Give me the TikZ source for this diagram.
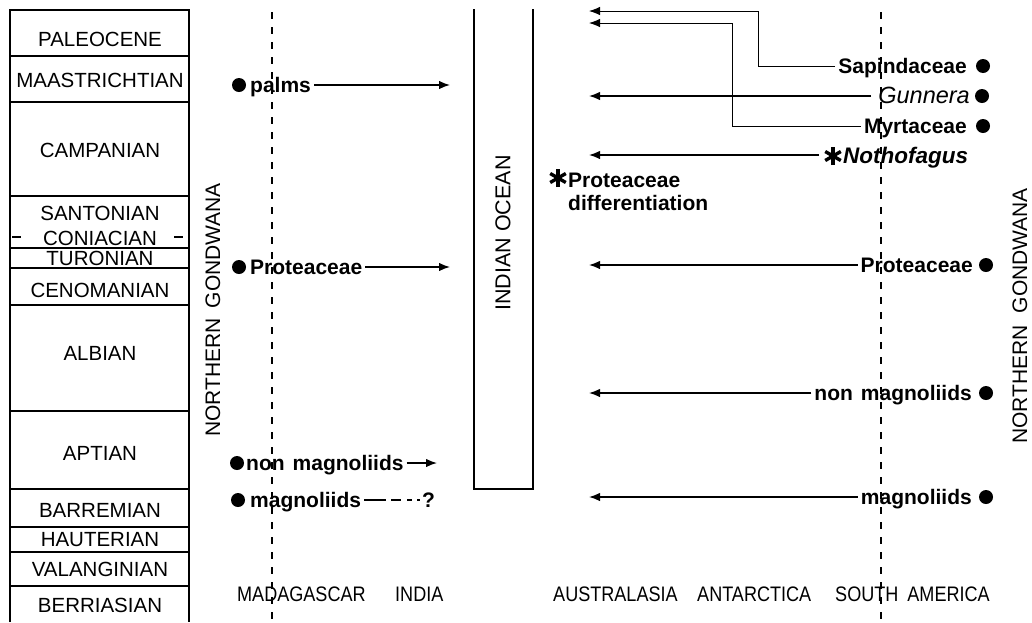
\documentclass[tikz,border=0pt]{standalone}
\usepackage{fontspec}
\setmainfont{Liberation Sans}
\newfontfamily\narrowfont{Liberation Sans}[FakeStretch=0.86]
\usetikzlibrary{arrows.meta}
\begin{document}
\begin{tikzpicture}[x=1pt,y=-1pt,
  col/.style={line width=1.2pt},
  stage/.style={font=\fontsize{20.5}{22}\selectfont, inner sep=0pt, text height=15pt, text depth=0pt},
  lab/.style={font=\bfseries\fontsize{21}{24}\selectfont, inner xsep=3pt, inner ysep=0pt, text height=15pt, text depth=0pt},
  itlab/.style={lab, font=\itshape\fontsize{23.5}{26}\selectfont},
  bilab/.style={lab, font=\bfseries\itshape\fontsize{22.5}{25}\selectfont},
  place/.style={font=\narrowfont\fontsize{21}{24}\selectfont, inner sep=0pt, text height=15pt, text depth=0pt},
  vlab/.style={font=\fontsize{21}{24}\selectfont, inner sep=0pt, rotate=90},
  dot/.style={circle, fill=black, minimum size=14pt, inner sep=0pt},
  arr/.style={line width=1.4pt, -{Latex[length=11pt,width=8.5pt]}},
  tarr/.style={line width=0.9pt, -{Latex[length=11pt,width=8.5pt]}},
  guide/.style={line width=1.1pt, dash pattern=on 7pt off 8pt},
  astk/.pic={\foreach \a in {90,30,150} \draw[line width=3.4pt] (\a:9) -- (\a+180:9);}
]
\fill[white] (0,0) rectangle (1032,622);
\useasboundingbox (0,0) rectangle (1032,622);

% ---- stage column ----
\draw[col] (10,622) -- (10,10) -- (189,10) -- (189,622);
\foreach \y in {56,102,196,248,268,305,411,489,527,552,586}
  \draw[col] (10,\y) -- (189,\y);
\draw[col] (12,237) -- (21,237);
\draw[col] (174,237) -- (183,237);

\node[stage] (pal) at (100,39) {PALEOCENE};
\node[stage] (maa) at (100,80) {MAASTRICHTIAN};
\node[stage] (cam) at (100,150) {CAMPANIAN};
\node[stage] (san) at (100,213) {SANTONIAN};
\node[stage] (con) at (100,238) {CONIACIAN};
\node[stage] (tur) at (100,258) {TURONIAN};
\node[stage] (cen) at (100,290) {CENOMANIAN};
\node[stage] (alb) at (100,353) {ALBIAN};
\node[stage] (apt) at (100,453) {APTIAN};
\node[stage] (bar) at (100,510) {BARREMIAN};
\node[stage] (hau) at (100,539) {HAUTERIAN};
\node[stage] (val) at (100,569) {VALANGINIAN};
\node[stage] (ber) at (100,605) {BERRIASIAN};

% ---- Northern Gondwana labels ----
\node[vlab] (ngl) at (213,310) {NORTHERN\hspace{10pt}GONDWANA};
\node[vlab] (ngr) at (1020,316) {NORTHERN\hspace{12pt}GONDWANA};

% ---- dashed guide lines ----
\coordinate (gl1) at (272,12);
\coordinate (gl2) at (272,622);
\coordinate (gr1) at (881,12);
\coordinate (gr2) at (881,622);
\draw[guide] (gl1) -- (gl2);
\draw[guide] (gr1) -- (gr2);

% ---- Indian Ocean ----
\draw[line width=2pt] (474,9) -- (474,489) -- (533,489) -- (533,9);
\node[vlab, font=\fontsize{21.5}{24}\selectfont] (io) at (503,233) {INDIAN OCEAN};

% ---- left (Madagascar / India) ----
\node[dot] (dpa) at (239,85) {};
\node[lab, anchor=west] (tpa) at (247,85) {palms};
\coordinate (epa) at (450,85);
\draw[arr] (tpa.east) -- (epa);

\node[dot] (dpl) at (239,267) {};
\node[lab, anchor=west] (tpl) at (247,267) {Proteaceae};
\coordinate (epl) at (450,267);
\draw[arr] (tpl.east) -- (epl);

\node[dot] (dnl) at (237,463) {};
\node[lab, anchor=west] (tnl) at (243,463) {non\hspace{8pt}magnoliids};
\coordinate (enl) at (437,463);
\draw[arr] (tnl.east) -- (enl);

\node[dot] (dml) at (238,500) {};
\node[lab, anchor=west] (tml) at (247,500) {magnoliids};
\node[lab, anchor=west, inner xsep=0pt] (qml) at (422,500) {?};
\draw[line width=1.4pt, dash pattern=on 22pt off 5pt on 10pt off 6pt on 5pt off 5pt on 3pt] (tml.east) -- (qml.west);

% ---- right (South America) ----
\node[dot] (dsa) at (983,66) {};
\node[lab, anchor=east] (tsa) at (970,66) {Sapindaceae};
\coordinate (ksa) at (758,11);
\coordinate (esa) at (589,11);
\draw[tarr] (tsa.west) -| (ksa) -- (esa);

\node[dot] (dgu) at (982,96) {};
\node[itlab, anchor=east] (tgu) at (973,96) {Gunnera};
\coordinate (egu) at (589,96);
\draw[arr, shorten <=4pt] (tgu.west) -- (egu);

\node[dot] (dmy) at (983,126) {};
\node[lab, anchor=east] (tmy) at (970,126) {Myrtaceae};
\coordinate (kmy) at (732,23);
\coordinate (emy) at (589,23);
\draw[tarr] (tmy.west) -| (kmy) -- (emy);

\node[bilab, anchor=west] (tno) at (840,156) {Nothofagus};
\pic at (833,156) {astk};
\coordinate (sno) at (819,155);
\coordinate (eno) at (589,155);
\draw[arr] (sno) -- (eno);

\pic at (558,178) {astk};
\node[lab, anchor=west] (tpd1) at (565,180) {Proteaceae};
\node[lab, anchor=west] (tpd2) at (565,203) {differentiation};

\node[dot] (dpr) at (986,265) {};
\node[lab, anchor=east] (tpr) at (976,265) {Proteaceae};
\coordinate (epr) at (589,265);
\draw[arr] (tpr.west) -- (epr);

\node[dot] (dnr) at (986,393) {};
\node[lab, anchor=east] (tnr) at (975,393) {non\hspace{8pt}magnoliids};
\coordinate (enr) at (589,393);
\draw[arr] (tnr.west) -- (enr);

\node[dot] (dmr) at (986,497) {};
\node[lab, anchor=east] (tmr) at (975,497) {magnoliids};
\coordinate (emr) at (589,497);
\draw[arr] (tmr.west) -- (emr);

% ---- bottom place labels ----
\node[place, anchor=west] (mad) at (237,594) {MADAGASCAR};
\node[place, anchor=west] (ind) at (395,594) {INDIA};
\node[place, anchor=west] (aus) at (553,594) {AUSTRALASIA};
\node[place, anchor=west] (ant) at (697,594) {ANTARCTICA};
\node[place, anchor=west] (sam) at (835,594) {SOUTH\hspace{9pt}AMERICA};
\end{tikzpicture}
\end{document}
